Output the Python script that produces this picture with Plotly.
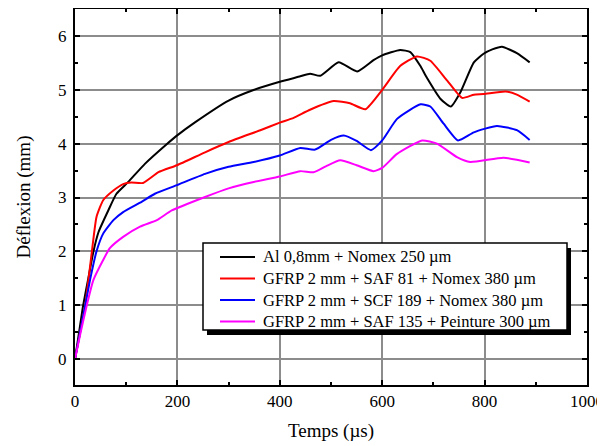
import plotly.graph_objects as go

# ---- data ----
t_al = [0, 8, 16, 26, 36, 46, 65, 81, 104, 137, 179, 199, 235, 300, 350, 400, 440, 459, 479, 515, 551, 583, 600, 635, 655, 674, 687, 714, 734, 753, 779, 798, 815, 834, 863, 888]
y_al = [0, 0.5, 1.0, 1.5, 2.0, 2.36, 2.76, 3.07, 3.29, 3.63, 3.99, 4.15, 4.40, 4.80, 5.0, 5.15, 5.25, 5.30, 5.26, 5.51, 5.34, 5.55, 5.64, 5.74, 5.70, 5.45, 5.23, 4.83, 4.69, 4.96, 5.51, 5.67, 5.75, 5.80, 5.68, 5.51]

t_saf81 = [0, 10, 20, 33, 42, 55, 75, 94, 110, 133, 163, 199, 254, 300, 362, 400, 427, 459, 505, 537, 567, 600, 635, 668, 694, 727, 756, 779, 798, 841, 863, 888]
y_saf81 = [0, 0.5, 1.0, 2.0, 2.64, 2.95, 3.13, 3.25, 3.28, 3.27, 3.47, 3.60, 3.84, 4.03, 4.25, 4.39, 4.48, 4.63, 4.79, 4.75, 4.64, 5.0, 5.44, 5.62, 5.54, 5.17, 4.85, 4.91, 4.92, 4.97, 4.91, 4.78]

t_scf189 = [0, 10, 20, 30, 42, 55, 75, 94, 130, 156, 199, 254, 300, 349, 400, 440, 469, 500, 525, 550, 578, 600, 629, 675, 694, 720, 748, 779, 824, 863, 888]
y_scf189 = [0, 0.5, 1.0, 1.5, 2.0, 2.33, 2.58, 2.73, 2.92, 3.07, 3.23, 3.44, 3.57, 3.66, 3.78, 3.92, 3.89, 4.07, 4.15, 4.05, 3.88, 4.06, 4.46, 4.73, 4.69, 4.37, 4.06, 4.21, 4.33, 4.25, 4.07]

t_saf135 = [0, 10, 23, 36, 55, 68, 94, 127, 160, 189, 254, 300, 349, 400, 440, 466, 490, 518, 550, 583, 600, 629, 678, 707, 746, 772, 837, 888]
y_saf135 = [0, 0.45, 1.0, 1.47, 1.84, 2.06, 2.27, 2.46, 2.58, 2.76, 3.01, 3.17, 3.29, 3.39, 3.49, 3.47, 3.58, 3.69, 3.60, 3.49, 3.55, 3.81, 4.06, 4.0, 3.75, 3.66, 3.74, 3.65]

names = [
    "Al 0,8mm + Nomex 250 µm",
    "GFRP 2 mm + SAF 81 + Nomex 380 µm",
    "GFRP 2 mm + SCF 189 + Nomex 380 µm",
    "GFRP 2 mm + SAF 135 + Peinture 300 µm",
]
colors = ["#000000", "#ff0000", "#0000ff", "#ff00ff"]
series = [(t_al, y_al), (t_saf81, y_saf81), (t_scf189, y_scf189), (t_saf135, y_saf135)]

FONT = "Liberation Serif, Times New Roman, serif"
# page body has an 8px margin, so the figure is 8px smaller and offset
OFF = 8
W, H = 605 - OFF, 446 - OFF
ML, MR, MT, MB = 75 - OFF, 18, 9 - OFF, 61
PW, PH = W - ML - MR, H - MT - MB


def px2paper(px, py):
    # px, py are window pixel coordinates
    return (px - OFF - ML) / PW, (H - MB - (py - OFF)) / PH


fig = go.Figure()
for (tx, ty), nm, c in zip(series, names, colors):
    fig.add_trace(go.Scatter(x=tx, y=ty, name=nm, mode="lines", showlegend=False,
                             line=dict(color=c, width=2, shape="spline", smoothing=0.5)))

axis_common = dict(
    showline=True, linecolor="black", linewidth=2, mirror="allticks",
    ticks="inside", ticklen=5, tickwidth=2, tickcolor="black",
    showgrid=True, gridcolor="#8c8c8c", gridwidth=2, zeroline=False,
    tickfont=dict(family=FONT, size=17, color="black"), automargin=False,
)

fig.update_xaxes(range=[0, 1000], dtick=200, tick0=0,
                 minor=dict(dtick=100, ticks="inside", ticklen=3, tickwidth=2, tickcolor="black", showgrid=False),
                 title=dict(text="Temps (µs)", font=dict(family=FONT, size=19, color="black"), standoff=13),
                 **axis_common)
fig.update_yaxes(range=[-0.48, 6.5], dtick=1, tick0=0,
                 minor=dict(dtick=0.5, ticks="inside", ticklen=3, tickwidth=2, tickcolor="black", showgrid=False),
                 title=dict(text="Déflexion (mm)", font=dict(family=FONT, size=19, color="black"), standoff=22),
                 ticklabelstandoff=3,
                 **axis_common)

# ---- hand-drawn legend box with drop shadow ----
bx0, by0, bx1, by1 = 203, 243, 567, 330
sx, sy = 4, 5
x0, y0 = px2paper(bx0 + sx, by1 + sy)
x1, y1 = px2paper(bx1 + sx, by0 + sy)
fig.add_shape(type="rect", xref="paper", yref="paper", x0=x0, x1=x1, y0=y0, y1=y1,
              fillcolor="black", line=dict(width=0), layer="above")
x0, y0 = px2paper(bx0, by1)
x1, y1 = px2paper(bx1, by0)
fig.add_shape(type="rect", xref="paper", yref="paper", x0=x0, x1=x1, y0=y0, y1=y1,
              fillcolor="white", line=dict(color="black", width=1.5), layer="above")
rows = [257, 278.5, 300, 321.5]
for nm, c, ry in zip(names, colors, rows):
    lx0, ly = px2paper(220, ry)
    lx1, _ = px2paper(255, ry)
    fig.add_shape(type="line", xref="paper", yref="paper", x0=lx0, x1=lx1, y0=ly, y1=ly,
                  line=dict(color=c, width=2), layer="above")
    tx, _ = px2paper(261, ry)
    fig.add_annotation(xref="paper", yref="paper", x=tx, y=ly, text=nm, showarrow=False,
                       xanchor="left", yanchor="middle",
                       font=dict(family=FONT, size=16.5, color="black"))

fig.update_layout(
    width=W, height=H,
    margin=dict(l=ML, r=MR, t=MT, b=MB),
    paper_bgcolor="white", plot_bgcolor="white",
    font=dict(family=FONT, color="black"),
    showlegend=False,
)

fig.write_html("out.html")
